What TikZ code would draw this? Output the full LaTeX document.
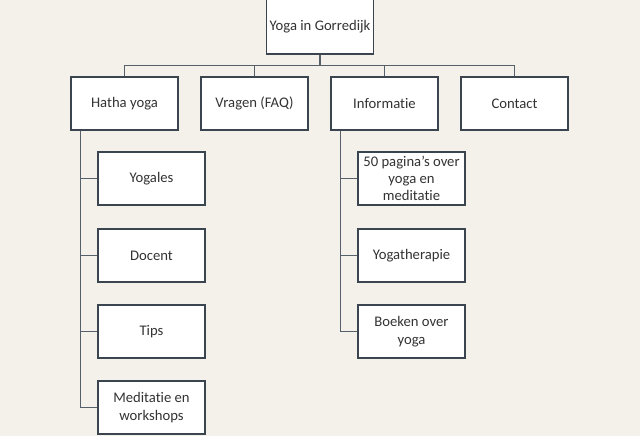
\documentclass[tikz,border=0pt]{standalone}
\usepackage{fontspec}
\setmainfont{Carlito}[Ligatures={NoCommon}]
\usepackage{tikz}
\usetikzlibrary{calc,positioning}
\definecolor{paper}{HTML}{F4F1EA}
\definecolor{boxline}{HTML}{3B4550}
\definecolor{linkline}{HTML}{55606A}
\definecolor{ink}{HTML}{333333}
\tikzset{
    page/.style={
        rectangle,
        draw=boxline, thick,
        fill=white,
        text=ink,
        minimum width=80.25pt,
        minimum height=39.75pt,
        align=center,
        inner sep=1pt,
        font={\fontsize{11pt}{13pt}\selectfont}
    },
    link/.style={draw=linkline, line width=0.9pt},
}

\begin{document}
\begin{tikzpicture}
[
    x=0.75pt, y=-0.75pt,
    rootpage/.style={page, minimum height=41.25pt},
]
\fill[paper] (0,0) rectangle (640,436);
\useasboundingbox (0,0) rectangle (640,436);

% hoofdniveau
\node (root)[rootpage] at (320,26.5) {Yoga in Gorredijk};
\node (hatha)[page] at (124.5,103.5) {Hatha yoga};
\node (vragen)[page] at (254.5,103.5) {Vragen (FAQ)};
\node (info)[page] at (384.5,103.5) {Informatie};
\node (contact)[page] at (514.5,103.5) {Contact};

% onder hatha yoga
\node (yogales)[page] at (151.5,178.5) {Yogales};
\node (docent)[page] at (151.5,255.5) {Docent};
\node (tips)[page] at (151.5,331.5) {Tips};
\node (meditatie)[page] at (151.5,407.5) {Meditatie en\\workshops};

% onder informatie
\node (paginas)[page] at (411.5,178.5) {50 pagina\char"27s over\\yoga en\\meditatie};
\node (therapie)[page] at (411.5,255.5) {Yogatherapie};
\node (boeken)[page] at (411.5,331.5) {Boeken over\\yoga};

\foreach \n in {hatha,vragen,info,contact}
    \draw[link] (root.south) -- ++(0,11) -| (\n.north);
\foreach \n in {yogales,docent,tips,meditatie}
    \draw[link] ([xshift=7.5pt]hatha.south west) |- (\n.west);
\foreach \n in {paginas,therapie,boeken}
    \draw[link] ([xshift=7.5pt]info.south west) |- (\n.west);
\end{tikzpicture}
\end{document}
